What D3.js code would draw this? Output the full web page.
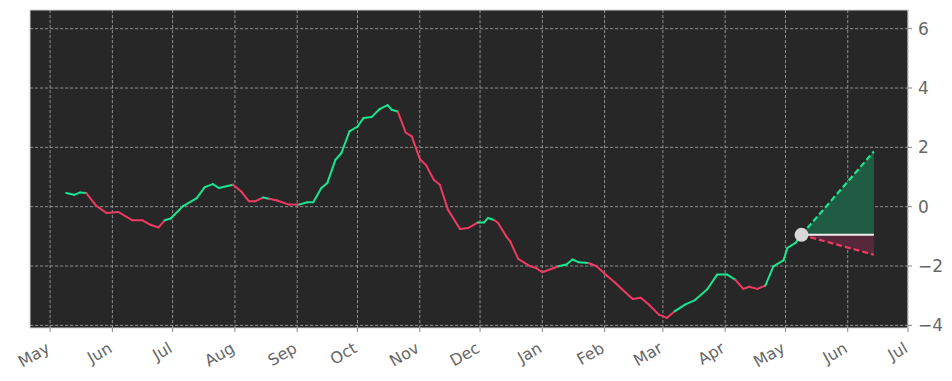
<!DOCTYPE html>
<html>
<head>
<meta charset="utf-8">
<script src="https://d3js.org/d3.v7.min.js"></script>
<style>
  body { margin: 0; background: #fff; }
  svg text { font-family: "DejaVu Sans", sans-serif; fill: #666; }
</style>
</head>
<body>
<script>
// daily-ish readings of the indicator
var dates = ["2023-05-09","2023-05-13","2023-05-16","2023-05-19","2023-05-24","2023-05-29","2023-06-04",
  "2023-06-11","2023-06-16","2023-06-20","2023-06-24","2023-06-27","2023-06-30","2023-07-06","2023-07-13",
  "2023-07-17","2023-07-21","2023-07-24","2023-07-31","2023-08-04","2023-08-08","2023-08-11","2023-08-15",
  "2023-08-18","2023-08-22","2023-08-28","2023-09-02","2023-09-06","2023-09-09","2023-09-13","2023-09-16",
  "2023-09-20","2023-09-23","2023-09-27","2023-10-01","2023-10-04","2023-10-08","2023-10-12","2023-10-16",
  "2023-10-18","2023-10-21","2023-10-25","2023-10-28","2023-11-01","2023-11-04","2023-11-08","2023-11-11",
  "2023-11-15","2023-11-21","2023-11-25","2023-11-30","2023-12-03","2023-12-05","2023-12-08","2023-12-10",
  "2023-12-14","2023-12-16","2023-12-20","2023-12-26","2023-12-29","2024-01-01","2024-01-09","2024-01-13",
  "2024-01-16","2024-01-19","2024-01-24","2024-01-28","2024-02-02","2024-02-06","2024-02-09","2024-02-15",
  "2024-02-19","2024-02-23","2024-02-28","2024-03-03","2024-03-07","2024-03-12","2024-03-17","2024-03-23",
  "2024-03-28","2024-04-02","2024-04-06","2024-04-10","2024-04-13","2024-04-17","2024-04-21","2024-04-25",
  "2024-04-30","2024-05-02","2024-05-06","2024-05-09"];
var values = [0.46,0.40,0.48,0.46,0.03,-0.21,-0.18,
  -0.46,-0.46,-0.61,-0.70,-0.46,-0.40,0.01,0.29,
  0.66,0.76,0.63,0.74,0.52,0.18,0.18,0.31,
  0.27,0.21,0.07,0.07,0.15,0.15,0.63,0.80,
  1.58,1.81,2.54,2.70,2.99,3.02,3.29,3.42,
  3.27,3.21,2.50,2.37,1.61,1.41,0.91,0.74,
  -0.10,-0.75,-0.72,-0.53,-0.53,-0.38,-0.45,-0.55,
  -1.00,-1.17,-1.76,-2.01,-2.07,-2.21,-2.01,-1.95,
  -1.78,-1.87,-1.90,-2.01,-2.32,-2.55,-2.74,-3.11,
  -3.07,-3.30,-3.64,-3.75,-3.52,-3.30,-3.15,-2.79,
  -2.29,-2.29,-2.46,-2.77,-2.70,-2.77,-2.66,-2.01,
  -1.81,-1.39,-1.22,-0.95];

// trend periods: each starts on a date and is "up" or "down"
var trendStart = ["2023-05-09","2023-05-19","2023-06-27","2023-07-31","2023-08-15","2023-08-18","2023-09-02",
  "2023-10-21","2023-11-30","2023-12-08","2024-01-09","2024-01-24","2024-03-07","2024-04-06","2024-04-21"];
var trendDir = ["up","down","up","down","up","down","up","down","up","down","up","down","up","down","up"];

// forecast cone
var forecastStart = "2024-05-09";
var forecastEnd = "2024-06-14";
var forecastLevel = -0.95;
var forecastHigh = 1.86;
var forecastLow = -1.62;

var monthLabels = ["May","Jun","Jul","Aug","Sep","Oct","Nov","Dec","Jan","Feb","Mar","Apr","May","Jun","Jul"];
var yTicks = [-4,-2,0,2,4,6];

var w = 952, h = 381;
var padL = 30, padR = 908, padT = 10, padB = 328;
var green = "#18e690", red = "#ee3a64";

var parse = d3.timeParse("%Y-%m-%d");

var svg = d3.select("body").append("svg")
    .attr("width", w)
    .attr("height", h);

var x = d3.scaleTime()
    .domain([parse("2023-04-21"), parse("2024-07-01")])
    .range([padL, padR]);
var y = d3.scaleLinear()
    .domain([-4.09, 6.63])
    .range([padB, padT]);

svg.append("rect")
    .attr("x", padL).attr("y", padT)
    .attr("width", padR - padL).attr("height", padB - padT)
    .attr("fill", "#272727");

// month ticks, one per label starting May 2023
var monthTicks = d3.timeMonth.range(parse("2023-05-01"), parse("2024-07-02"));

// grid
var grid = svg.append("g")
    .attr("stroke", "#a8a8a8")
    .attr("stroke-width", 0.8)
    .attr("stroke-dasharray", "3.2,1.8");
grid.selectAll("line.v").data(monthTicks).enter().append("line")
    .attr("x1", function(d) { return x(d); }).attr("x2", function(d) { return x(d); })
    .attr("y1", padT).attr("y2", padB);
grid.selectAll("line.h").data(yTicks).enter().append("line")
    .attr("x1", padL).attr("x2", padR)
    .attr("y1", function(d) { return y(d); }).attr("y2", function(d) { return y(d); });

// forecast fills
var f0 = x(parse(forecastStart)), f1 = x(parse(forecastEnd));
svg.append("path")
    .attr("d", "M" + f0 + "," + y(forecastLevel) + "L" + f1 + "," + y(forecastHigh) + "L" + f1 + "," + y(forecastLevel) + "Z")
    .attr("fill", "#1f5c43");
svg.append("path")
    .attr("d", "M" + f0 + "," + y(forecastLevel) + "L" + f1 + "," + y(forecastLevel) + "L" + f1 + "," + y(forecastLow) + "Z")
    .attr("fill", "#55293a");

// line segments coloured by trend
var points = dates.map(function(d, i) { return { date: parse(d), value: values[i] }; });
var trends = trendStart.map(function(d, i) { return { date: parse(d), dir: trendDir[i] }; });
function dirAt(date) {
    var dir = trends[0].dir;
    trends.forEach(function(t) { if (date >= t.date) dir = t.dir; });
    return dir;
}
var segs = d3.pairs(points);
svg.selectAll("line.seg").data(segs).enter().append("line")
    .attr("x1", function(d) { return x(d[0].date); })
    .attr("y1", function(d) { return y(d[0].value); })
    .attr("x2", function(d) { return x(d[1].date); })
    .attr("y2", function(d) { return y(d[1].value); })
    .attr("stroke", function(d) { return dirAt(d[0].date) == "up" ? green : red; })
    .attr("stroke-width", 2)
    .attr("stroke-linecap", "round");

// forecast lines
svg.append("line")
    .attr("x1", f0).attr("y1", y(forecastLevel)).attr("x2", f1).attr("y2", y(forecastHigh))
    .attr("stroke", green).attr("stroke-width", 2.2).attr("stroke-dasharray", "6,3");
svg.append("line")
    .attr("x1", f0).attr("y1", y(forecastLevel)).attr("x2", f1).attr("y2", y(forecastLow))
    .attr("stroke", red).attr("stroke-width", 2.2).attr("stroke-dasharray", "6,3");
svg.append("line")
    .attr("x1", f0).attr("y1", y(forecastLevel)).attr("x2", f1).attr("y2", y(forecastLevel))
    .attr("stroke", "#eeeeee").attr("stroke-width", 2);
svg.append("circle")
    .attr("cx", f0).attr("cy", y(forecastLevel)).attr("r", 7)
    .attr("fill", "#d8d8d8");

// frame
svg.append("rect")
    .attr("x", padL).attr("y", padT)
    .attr("width", padR - padL).attr("height", padB - padT)
    .attr("fill", "none").attr("stroke", "#d4d4d4").attr("stroke-width", 1);

// x axis ticks + rotated labels
var xt = svg.selectAll("g.xt").data(monthTicks).enter().append("g")
    .attr("transform", function(d) { return "translate(" + x(d) + "," + padB + ")"; });
xt.append("line").attr("y2", 4).attr("stroke", "#666").attr("stroke-width", 0.8);
xt.append("text")
    .attr("transform", "translate(-4,15) rotate(-30)")
    .attr("text-anchor", "end")
    .attr("dy", "0.6em")
    .attr("font-size", 16)
    .text(function(d, i) { return monthLabels[i]; });

// right y axis
var yt = svg.selectAll("g.yt").data(yTicks).enter().append("g")
    .attr("transform", function(d) { return "translate(" + padR + "," + y(d) + ")"; });
yt.append("line").attr("x2", 4).attr("stroke", "#666").attr("stroke-width", 0.8);
yt.append("text")
    .attr("x", 10)
    .attr("dy", "0.36em")
    .attr("font-size", 17)
    .text(function(d) { return d < 0 ? "\u2212" + Math.abs(d) : d; });
</script>
</body>
</html>
